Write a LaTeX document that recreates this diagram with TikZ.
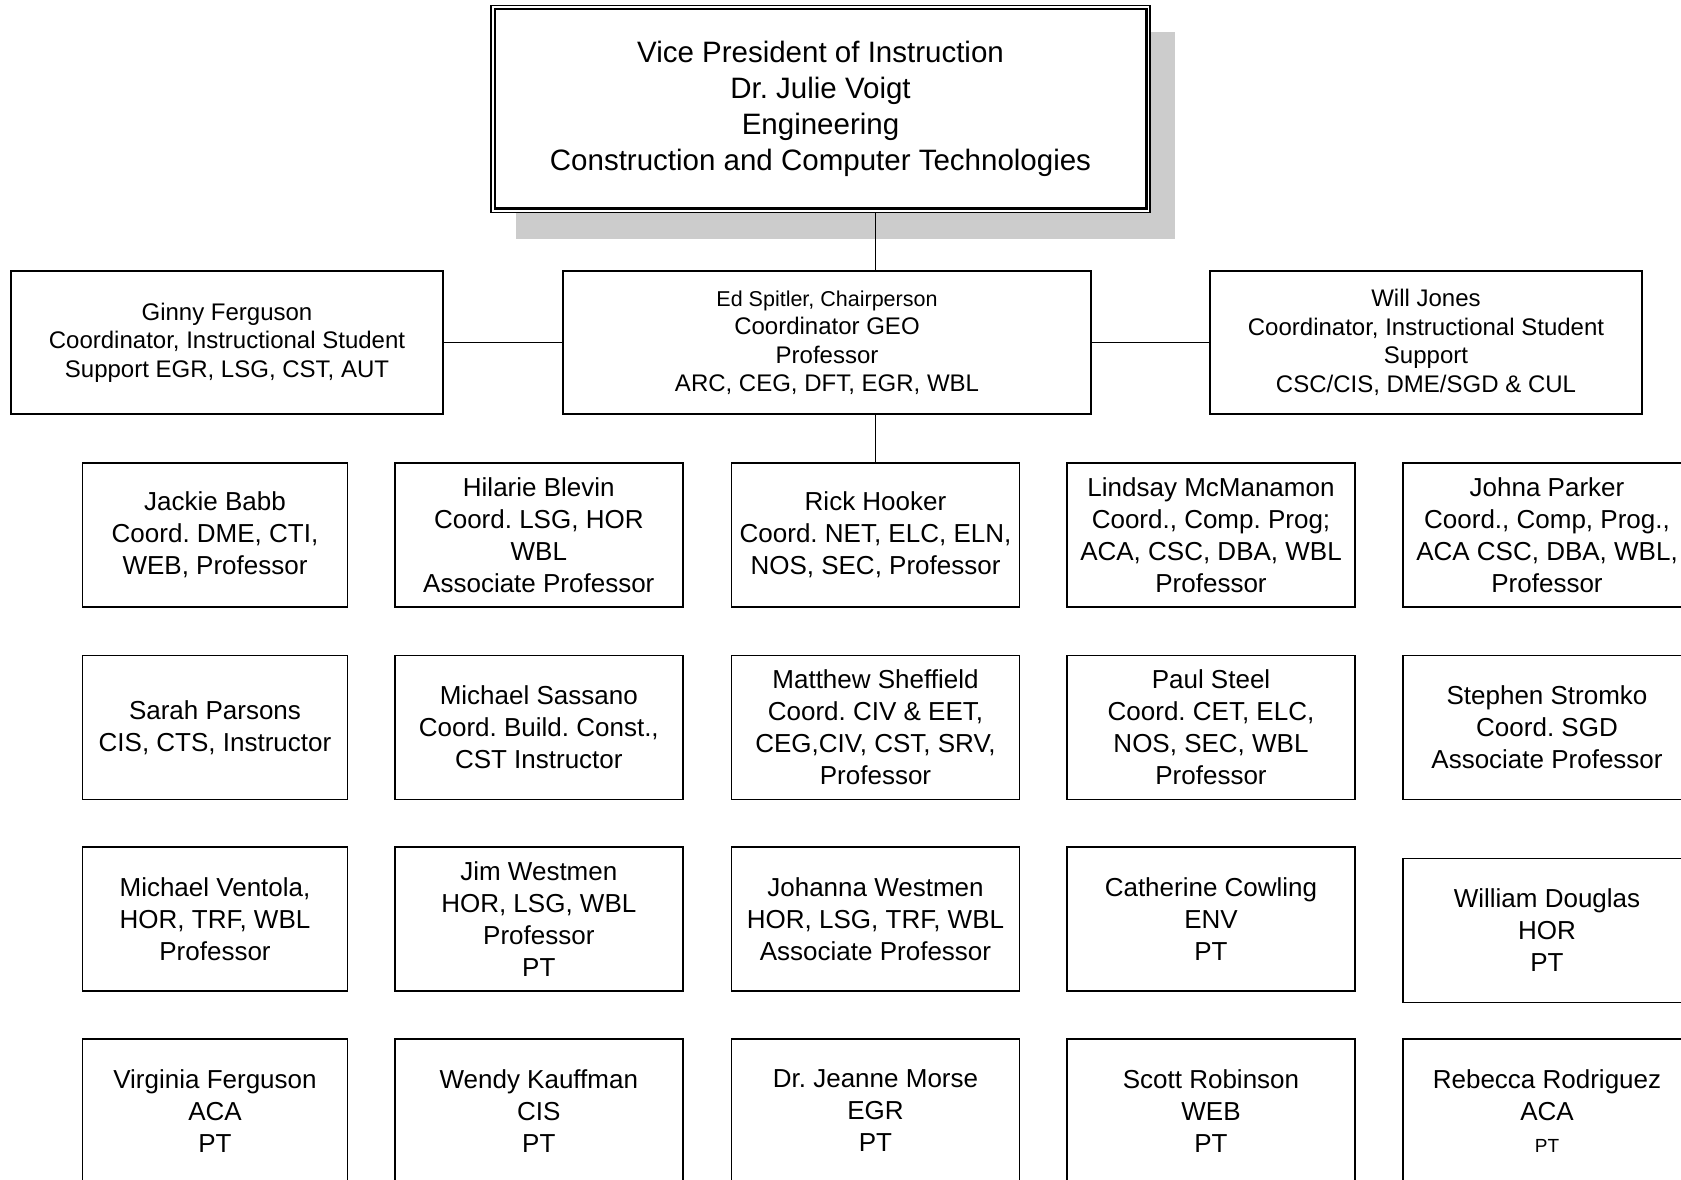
\documentclass[tikz,border=0pt]{standalone}
\usepackage{fontspec}
\setmainfont{Liberation Sans}
\definecolor{shadowgray}{RGB}{204,204,204}
\frenchspacing
\begin{document}
\frenchspacing
\begin{tikzpicture}[x=1pt,y=-1pt,
  box/.style={draw, line width=1.8pt, inner sep=0pt, align=center, font=\fontsize{26}{32}\selectfont},
  cA/.style={box, minimum width=265pt, minimum height=144pt},
  cB/.style={box, minimum width=288pt, minimum height=144pt},
  side/.style={box, minimum width=432pt, minimum height=143pt, font=\fontsize{24}{28.5}\selectfont},
  link/.style={line width=1.5pt}]
\clip (0,0) rectangle (1681,1179);
\fill[white] (0,0) rectangle (1681,1179);

% top box with shadow and double border
\node[fill=shadowgray, minimum width=659pt, minimum height=207pt, inner sep=0pt] (vpshadow) at (845,135) {};
\node[draw, fill=white, line width=1.5pt, minimum width=659pt, minimum height=207pt, inner sep=0pt,
      align=center, font=\fontsize{29.5}{36}\selectfont] (vp) at (820.5,108.75)
  {Vice President of Instruction\\Dr. Julie Voigt\\Engineering\\Construction and Computer Technologies};
\draw[line width=2.5pt] ([shift={(4.5,4.5)}]vp.north west) rectangle ([shift={(-4.5,-4.5)}]vp.south east);

% second level
\node[box, minimum width=528pt, minimum height=143pt, font=\fontsize{24}{28.5}\selectfont] (chair) at (827,342.5)
  {{\fontsize{21.5}{28.5}\selectfont Ed Spitler, Chairperson}\\Coordinator GEO\\Professor\\ARC, CEG, DFT, EGR, WBL};
\node[side] (ginny) at (227,342.5)
  {Ginny Ferguson\\Coordinator, Instructional Student\\Support EGR, LSG, CST, AUT};
\node[side] (will) at (1426,342.5)
  {Will Jones\\Coordinator, Instructional Student\\Support\\CSC/CIS, DME/SGD \& CUL};

% row 1
\node[cA] (jackie) at (215,535) {Jackie Babb\\Coord. DME, CTI,\\WEB, Professor};
\node[cB] (hilarie) at (538.8,535) {Hilarie Blevin\\Coord. LSG, HOR\\WBL\\Associate Professor};
\node[cB] (rick) at (875.5,535) {Rick Hooker\\Coord. NET, ELC, ELN,\\NOS, SEC, Professor};
\node[cB] (lindsay) at (1211,535) {Lindsay McManamon\\Coord., Comp. Prog;\\ACA, CSC, DBA, WBL\\Professor};
\node[cB] (johna) at (1547,535) {Johna Parker\\Coord., Comp, Prog.,\\ACA CSC, DBA, WBL,\\Professor};

% row 2
\node[cA] (sarah) at (215,727.5) {Sarah Parsons\\CIS, CTS, Instructor};
\node[cB] (sassano) at (538.8,727.5) {Michael Sassano\\Coord. Build. Const.,\\CST Instructor};
\node[cB] (matthew) at (875.5,727.5) {Matthew Sheffield\\Coord. CIV \& EET,\\CEG,CIV, CST, SRV,\\Professor};
\node[cB] (paul) at (1211,727.5) {Paul Steel\\Coord. CET, ELC,\\NOS, SEC, WBL\\Professor};
\node[cB] (stephen) at (1547,727.5) {Stephen Stromko\\Coord. SGD\\Associate Professor};

% row 3
\node[cA] (ventola) at (215,919) {Michael Ventola,\\HOR, TRF, WBL\\Professor};
\node[cB] (jim) at (538.8,919) {Jim Westmen\\HOR, LSG, WBL\\Professor\\PT};
\node[cB] (johanna) at (875.5,919) {Johanna Westmen\\HOR, LSG, TRF, WBL\\Associate Professor};
\node[cB] (catherine) at (1211,919) {Catherine Cowling\\ENV\\PT};
\node[cB] (william) at (1547,930.5) {William Douglas\\HOR\\PT};

% row 4
\node[cA] (virginia) at (215,1111) {Virginia Ferguson\\ACA\\PT};
\node[cB] (wendy) at (538.8,1111) {Wendy Kauffman\\CIS\\PT};
\node[cB] (morse) at (875.5,1111) {Dr. Jeanne Morse\\EGR\\PT};
\node[cB] (scott) at (1211,1111) {Scott Robinson\\WEB\\PT};
\node[cB] (rebecca) at (1547,1111) {Rebecca Rodriguez\\ACA\\{\fontsize{19}{32}\selectfont PT}};

% connectors
\draw[link] (vp.south -| rick.north) -- (chair.north -| rick.north);
\draw[link] (ginny.east) -- (chair.west);
\draw[link] (chair.east) -- (will.west);
\draw[link] (chair.south -| rick.north) -- (rick.north);
\end{tikzpicture}
\end{document}
